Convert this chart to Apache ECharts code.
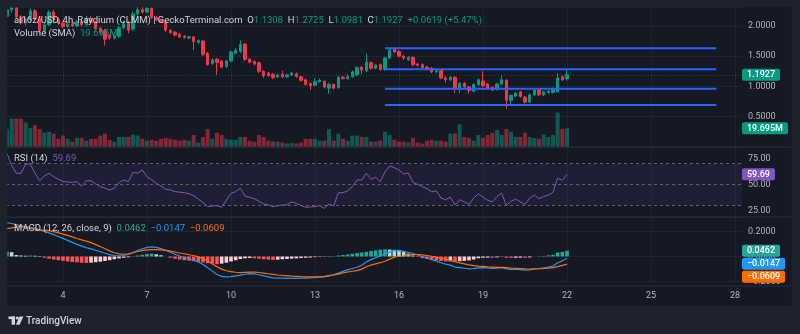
<!DOCTYPE html>
<html>
<head>
<meta charset="utf-8">
<script src="https://cdn.jsdelivr.net/npm/echarts@6/dist/echarts.min.js"></script>
<style>
  html, body { margin: 0; padding: 0; background: #1e222d; }
  #chart { width: 800px; height: 334px; }
</style>
</head>
<body>
<div id="chart"></div>
<script>
// ai16z/USD 4h candles, Raydium (CLMM), from day 2 00:00 to day 22 00:00
const dayTicks = [4, 7, 10, 13, 16, 19, 22, 25, 28];

const open = [2.16,2.27,2.30,2.15,2.05,2.11,2.25,2.13,1.92,2.02, 2.23,2.11,2.05,1.99,2.03,2.00,2.07,2.02,2.13,2.06,
  1.96,1.92,1.84,1.80,1.83,1.97,2.04,1.95,2.20,2.27, 2.23,2.29,2.14,2.10,2.07,1.93,1.90,1.86,1.83,1.80,
  1.82,1.73,1.75,1.55,1.38,1.45,1.42,1.33,1.42,1.55, 1.58,1.70,1.45,1.41,1.39,1.25,1.22,1.20,1.16,1.20,
  1.16,1.19,1.21,1.16,1.11,1.05,1.02,1.08,1.08,0.97, 1.03,0.98,1.15,1.13,1.16,1.19,1.32,1.26,1.39,1.30,
  1.36,1.28,1.47,1.62,1.58,1.50,1.44,1.48,1.37,1.36, 1.32,1.30,1.24,1.27,1.14,1.11,1.15,0.97,1.05,0.99,
  0.92,1.03,1.09,1.04,0.98,0.95,1.04,1.10,0.77,0.84, 0.91,0.82,0.74,0.86,0.94,0.86,0.90,0.90,0.91,1.16,
  1.1308];
const high = [2.30,2.33,2.32,2.18,2.14,2.29,2.28,2.16,2.05,2.26, 2.27,2.14,2.08,2.06,2.06,2.10,2.10,2.17,2.16,2.09,
  1.99,1.95,1.86,1.85,2.00,2.08,2.09,2.24,2.31,2.33, 2.32,2.31,2.17,2.12,2.08,1.95,1.92,1.88,1.85,1.84,
  1.83,1.78,1.77,1.57,1.46,1.47,1.44,1.44,1.59,1.63, 1.76,1.72,1.47,1.43,1.41,1.27,1.24,1.22,1.21,1.26,
  1.21,1.24,1.23,1.18,1.13,1.07,1.14,1.13,1.10,1.06, 1.05,1.17,1.17,1.20,1.26,1.33,1.34,1.54,1.41,1.37,
  1.38,1.49,1.62,1.64,1.60,1.52,1.50,1.50,1.39,1.38, 1.34,1.32,1.28,1.28,1.18,1.17,1.17,1.07,1.07,1.01,
  1.05,1.13,1.25,1.06,1.00,1.06,1.19,1.12,0.87,0.91, 0.93,0.84,0.88,0.96,0.96,0.93,0.94,0.98,1.22,1.18,
  1.2725];
const low = [2.13,2.22,2.12,2.02,2.01,2.08,2.10,1.88,1.89,2.00, 2.08,2.02,1.96,1.96,1.98,1.98,1.99,2.00,2.03,1.93,
  1.86,1.68,1.77,1.78,1.80,1.95,1.88,1.92,2.17,2.20, 2.21,2.12,2.08,2.05,1.90,1.87,1.83,1.80,1.79,1.78,
  1.60,1.70,1.50,1.34,1.36,1.19,1.30,1.30,1.40,1.53, 1.55,1.42,1.38,1.35,1.22,1.14,1.16,1.12,1.14,1.14,
  1.14,1.17,1.14,1.08,1.01,0.94,1.00,1.06,0.97,0.88, 0.95,0.96,1.11,1.11,1.14,1.17,1.20,1.24,1.28,1.28,
  1.26,1.26,1.45,1.55,1.48,1.44,1.42,1.33,1.33,1.29, 1.27,1.22,1.22,1.12,1.06,1.09,0.89,0.89,0.97,0.88,
  0.90,1.01,0.99,0.95,0.92,0.93,1.02,0.63,0.71,0.82, 0.81,0.72,0.72,0.84,0.84,0.84,0.88,0.88,0.89,1.09,
  1.0981];
const close = [2.27,2.30,2.15,2.05,2.11,2.25,2.13,1.92,2.02,2.23, 2.11,2.05,1.99,2.03,2.00,2.07,2.02,2.13,2.06,1.96,
  1.90,1.78,1.80,1.83,1.97,2.04,1.93,2.20,2.27,2.23, 2.29,2.14,2.10,2.07,1.93,1.89,1.85,1.82,1.81,1.82,
  1.74,1.76,1.53,1.36,1.44,1.40,1.32,1.42,1.57,1.60, 1.70,1.45,1.40,1.37,1.25,1.18,1.18,1.15,1.19,1.16,
  1.19,1.22,1.16,1.10,1.03,1.01,1.08,1.10,0.99,1.03, 0.97,1.15,1.13,1.16,1.24,1.31,1.27,1.40,1.30,1.35,
  1.28,1.47,1.60,1.57,1.50,1.47,1.48,1.36,1.35,1.31, 1.29,1.24,1.26,1.14,1.11,1.15,0.97,1.05,0.99,0.93,
  1.03,1.11,1.01,0.97,0.94,1.04,1.11,0.77,0.85,0.89, 0.83,0.74,0.86,0.94,0.86,0.91,0.92,0.96,1.14,1.11,
  1.1927];

// volume in millions
const volume = [19,30,30,30,26,20,23,19,15,16, 14,8.5,12,8.5,5.5,9.5,9.5,6.5,8.5,8.5,
  12,14,7.5,5.5,10.5,10.5,10.5,13,12,8.5, 6.5,7.5,6.5,8.5,9.5,8.5,7.5,6.5,7.5,6.5,
  12.5,4.5,10.5,19,8.5,15,12.5,8.5,7.5,7.5, 10.5,10.5,6.5,5.5,12.5,10.5,6.5,5.5,5.5,4.5,
  3.5,4,3.5,4.5,8.5,8.5,8.5,6.5,6.5,19, 6.5,14,8.5,6.5,12,12,10.5,10.5,5.5,5.5,
  6.5,16,12.5,7.5,5.5,5.5,4.5,9.5,4.5,3.5, 6.5,7.5,6.5,6.5,5.5,14,14,24,10.5,9.5,
  6.5,12.5,9.5,12.5,15,18,12.5,19,16,10.5, 10.5,15,10.5,9.5,8.5,13,10.5,12.5,36.5,19,
  19.695];

// RSI (14)
const rsi = [79.7,68,60.7,60.7,69.5,69.5,60.7,53.6,58,60.7, 57.4,55,52.7,52.5,52,52.7,48.6,53.6,53.6,50.5,
  47.9,46.5,44.8,46.4,51.7,54.3,52.7,61.6,60.7,63.8, 57.4,54.5,51.1,48.5,45.5,44.8,43.1,42.8,42.2,41.2,
  39.5,36,33,28.9,29.5,29.8,28.3,35,41.6,43.1, 46.4,39,37.8,36.5,34,31.4,30.5,28.9,29.7,30.5,
  30.5,33.6,32,30,28.3,28.6,29,29.8,27.3,31.4, 29.5,42.2,42.2,44,47.9,54.3,54.3,60.7,55,56.9,
  52.7,62,67.6,66,63.8,60,61,52,50,48, 46,43,44,37,35.5,38,30.5,35.5,33.5,31,
  37,41,38,35,33.5,38.5,42,30,34,36, 33.5,31,37,40,36.5,38.5,40,42.5,56,54,
  59.69];

// MACD (12, 26, close, 9)
const macdLine = [0.273,0.266,0.257,0.248,0.24,0.236,0.228,0.215,0.203,0.19, 0.176,0.161,0.146,0.13,0.114,0.098,0.084,0.072,0.062,0.05,
  0.038,0.026,0.015,0.008,0.006,0.008,0.016,0.032,0.048,0.062, 0.074,0.078,0.074,0.064,0.05,0.034,0.018,0.004,-0.008,-0.02,
  -0.03,-0.045,-0.065,-0.09,-0.118,-0.145,-0.16,-0.165,-0.162,-0.157, -0.15,-0.143,-0.138,-0.14,-0.147,-0.156,-0.164,-0.172,-0.175,-0.175,
  -0.176,-0.176,-0.176,-0.175,-0.174,-0.172,-0.169,-0.166,-0.164,-0.156, -0.146,-0.134,-0.12,-0.108,-0.097,-0.087,-0.07,-0.045,-0.025,-0.01,
  0.005,0.02,0.035,0.048,0.05,0.042,0.034,0.024,0.012,0.0, -0.012,-0.025,-0.035,-0.05,-0.062,-0.07,-0.085,-0.09,-0.095,-0.1,
  -0.098,-0.092,-0.09,-0.092,-0.095,-0.094,-0.09,-0.1,-0.104,-0.105, -0.106,-0.11,-0.108,-0.1,-0.097,-0.092,-0.085,-0.077,-0.05,-0.035,
  -0.0147];
const signalLine = [0.225,0.231,0.237,0.24,0.236,0.228,0.222,0.213,0.213,0.208, 0.2,0.191,0.181,0.17,0.158,0.145,0.134,0.124,0.112,0.096,
  0.08,0.062,0.045,0.03,0.021,0.018,0.022,0.03,0.04,0.048, 0.054,0.056,0.056,0.054,0.05,0.044,0.036,0.028,0.022,0.014,
  0.008,-0.003,-0.017,-0.036,-0.06,-0.083,-0.102,-0.115,-0.122,-0.127, -0.13,-0.128,-0.126,-0.126,-0.129,-0.134,-0.139,-0.144,-0.149,-0.153,
  -0.156,-0.159,-0.161,-0.163,-0.164,-0.164,-0.164,-0.163,-0.16,-0.154, -0.149,-0.142,-0.132,-0.125,-0.119,-0.114,-0.102,-0.083,-0.069,-0.059,
  -0.05,-0.038,-0.021,-0.006,0.002,0.005,0.011,0.016,0.016,0.013, 0.008,0.002,-0.005,-0.013,-0.022,-0.031,-0.042,-0.052,-0.06,-0.068,
  -0.074,-0.078,-0.08,-0.083,-0.085,-0.087,-0.088,-0.09,-0.093,-0.095, -0.097,-0.1,-0.101,-0.1,-0.099,-0.097,-0.094,-0.09,-0.082,-0.072,
  -0.0609];
const histogram = [0.04,0.035,0.012,0.008,0.006,0.008,0.006,0.004,-0.01,-0.018, -0.024,-0.03,-0.035,-0.04,-0.044,-0.047,-0.05,-0.052,-0.05,-0.046,
  -0.042,-0.036,-0.03,-0.022,-0.015,-0.01,-0.006,0.002,0.008,0.014, 0.02,0.022,0.018,0.01,0.0,-0.01,-0.018,-0.024,-0.03,-0.034,
  -0.038,-0.042,-0.048,-0.054,-0.058,-0.062,-0.058,-0.05,-0.04,-0.03, -0.02,-0.015,-0.012,-0.014,-0.018,-0.022,-0.025,-0.028,-0.026,-0.022,
  -0.02,-0.017,-0.015,-0.012,-0.01,-0.008,-0.005,-0.003,-0.004,-0.002, 0.003,0.008,0.012,0.017,0.022,0.027,0.032,0.038,0.044,0.049,
  0.055,0.058,0.056,0.054,0.048,0.037,0.023,0.008,-0.004,-0.013, -0.02,-0.027,-0.03,-0.037,-0.04,-0.039,-0.043,-0.038,-0.035,-0.032,
  -0.024,-0.014,-0.01,-0.009,-0.01,-0.007,-0.002,-0.01,-0.011,-0.01, -0.009,-0.01,-0.007,0.0,0.002,0.005,0.009,0.013,0.032,0.037,
  0.0462];

// horizontal levels drawn on the price pane
const levels = [1.631, 1.283, 0.962, 0.692];
const levelFrom = '15|12';
const levelTo = '27|08';

// ---- colours / fonts ----
const FONT = 'Roboto, "Noto Sans", sans-serif';
const UP = '#089981', DOWN = '#f23645';
const BG = '#151924', FRAME = '#1e222d';
const GRID = '#20242f', SEP = '#2a2e39';
const AXIS_TXT = '#b2b5be', LEG_TXT = '#d1d4dc';
const RSI_C = '#7e57c2', MACD_C = '#2196f3', SIG_C = '#ff6d00';

// 2-hour slots starting at day 1 18:00; candles sit on every other slot
const slots = [];
for (let k = 0; k < 319; k++) {
  const h = 18 + 2 * k;
  slots.push((1 + Math.floor(h / 24)) + '|' + String(h % 24).padStart(2, '0'));
}
const candleSlot = i => 3 + 2 * i;
const candleKeys = close.map((_, i) => slots[candleSlot(i)]);

function onSlots(values) {
  const out = slots.map(() => '-');
  values.forEach((v, i) => { out[candleSlot(i)] = v; });
  return out;
}
const isDayTick = (idx, key) => {
  const [d, hh] = String(key).split('|');
  return hh === '00' && dayTicks.includes(+d);
};
const signed = (v, d) => (v < 0 ? '\u2212' : '') + Math.abs(v).toFixed(d);

const candleData = onSlots(close.map((c, i) => [open[i], c, low[i], high[i]]));
const volumeData = onSlots(volume.map((v, i) => ({
  value: v,
  itemStyle: { color: close[i] >= open[i] ? 'rgba(8,153,129,0.5)' : 'rgba(242,54,69,0.5)' }
})));
const histColor = (h, prev) => h >= 0 ? (h >= prev ? '#26a69a' : '#b2dfdb') : (h < prev ? '#ff5252' : '#ffcdd2');
const histData = onSlots(histogram.map((h, i) => ({
  value: h,
  itemStyle: { color: histColor(h, i ? histogram[i - 1] : h) }
})));
const pairs = arr => arr.map((v, i) => [candleKeys[i], v]);

function timeAxis(gridIndex, withLabels) {
  return {
    type: 'category', gridIndex, data: slots, boundaryGap: false,
    axisLine: { show: false }, axisTick: { show: false },
    axisLabel: withLabels ? {
      show: true, interval: isDayTick, formatter: v => v.split('|')[0],
      color: AXIS_TXT, fontSize: 9, fontFamily: FONT, margin: 10
    } : { show: false },
    splitLine: { show: true, interval: isDayTick, lineStyle: { color: GRID, width: 1 } }
  };
}
const valLabel = (fmt) => ({
  color: AXIS_TXT, fontSize: 9, fontFamily: FONT, margin: 6, align: 'left',
  showMinLabel: false, showMaxLabel: false, formatter: fmt
});

const chart = echarts.init(document.getElementById('chart'));
chart.setOption({
  animation: false,
  backgroundColor: BG,
  grid: [
    { left: 0, width: 742, top: 7, height: 139.8, outerBoundsMode: 'none' },
    { left: 0, width: 742, top: 132, height: 105, outerBoundsMode: 'none' },
    { left: 0, width: 742, top: 217, height: 64.3, outerBoundsMode: 'none' }
  ],
  xAxis: [timeAxis(0, false), timeAxis(1, false), timeAxis(2, true)],
  yAxis: [
    { type: 'value', gridIndex: 0, position: 'right', min: 0, max: 2.3146, interval: 0.5,
      axisLine: { show: false }, axisTick: { show: false },
      axisLabel: valLabel(v => v.toFixed(4)),
      splitLine: { lineStyle: { color: GRID } } },
    { type: 'value', gridIndex: 0, show: false, min: 0, max: 148.9 },
    { type: 'value', gridIndex: 1, position: 'right', min: 0, max: 100, interval: 25,
      axisLine: { show: false }, axisTick: { show: false },
      axisLabel: valLabel(v => v.toFixed(2)),
      splitLine: { show: false } },
    { type: 'value', gridIndex: 2, position: 'right', min: -0.2, max: 0.3185, interval: 0.2,
      axisLine: { show: false }, axisTick: { show: false },
      axisLabel: Object.assign(valLabel(v => signed(v, 4)), { showMinLabel: true }),
      splitLine: { lineStyle: { color: GRID } } }
  ],
  series: [
    {
      name: 'Volume', type: 'bar', xAxisIndex: 0, yAxisIndex: 1, data: volumeData,
      barWidth: 4, z: 1, silent: true
    },
    {
      name: 'ai16z/USD', type: 'candlestick', xAxisIndex: 0, yAxisIndex: 0, data: candleData,
      barWidth: 3, z: 3,
      itemStyle: { color: UP, color0: DOWN, borderColor: UP, borderColor0: DOWN, borderWidth: 1 },
      markLine: {
        silent: true, symbol: ['none', 'none'], label: { show: false },
        lineStyle: { type: [1, 2], color: UP, width: 1, opacity: 0.45 },
        data: [{ yAxis: close[close.length - 1] }]
      }
    },
    ...levels.map((p, n) => ({
      name: 'level ' + (n + 1), type: 'line', xAxisIndex: 0, yAxisIndex: 0,
      data: [[levelFrom, p], [levelTo, p]], symbol: 'none', z: 4, silent: true,
      lineStyle: { color: '#2962ff', width: 2 }
    })),
    {
      name: 'RSI', type: 'line', xAxisIndex: 1, yAxisIndex: 2, data: pairs(rsi),
      symbol: 'none', lineStyle: { color: RSI_C, width: 1 }, z: 4,
      markArea: { silent: true, itemStyle: { color: 'rgba(126,87,194,0.10)' },
        data: [[{ yAxis: 30 }, { yAxis: 70 }]] },
      markLine: { silent: true, symbol: ['none', 'none'], label: { show: false },
        lineStyle: { type: [3, 3], color: '#5d606b', width: 1 },
        data: [{ yAxis: 70 }, { yAxis: 50 }, { yAxis: 30 }] }
    },
    {
      name: 'Histogram', type: 'bar', xAxisIndex: 2, yAxisIndex: 3, data: histData,
      barWidth: 3.6, z: 2, silent: true
    },
    {
      name: 'MACD', type: 'line', xAxisIndex: 2, yAxisIndex: 3, data: pairs(macdLine),
      symbol: 'none', lineStyle: { color: MACD_C, width: 1.2 }, z: 4
    },
    {
      name: 'Signal', type: 'line', xAxisIndex: 2, yAxisIndex: 3, data: pairs(signalLine),
      symbol: 'none', lineStyle: { color: SIG_C, width: 1.2 }, z: 4
    }
  ]
});

// ---- overlay: frame, separators, legends, last-value tags, logo ----
const last = close.length - 1;
const g = [];
// outer frame
[[0, 0, 7.3, 334], [0, 0, 800, 7.3], [791.7, 0, 8.3, 334], [0, 305.7, 800, 28.3]].forEach(r => {
  g.push({ type: 'rect', z: 100, silent: true, shape: { x: r[0], y: r[1], width: r[2], height: r[3] }, style: { fill: FRAME } });
});
// pane separators
[147, 217, 286].forEach(y => {
  g.push({ type: 'line', z: 50, silent: true, shape: { x1: 7.3, y1: y, x2: 791.7, y2: y }, style: { stroke: SEP, lineWidth: 1 } });
});

function legend(y, text, rich) {
  const r = {};
  Object.keys(rich).forEach(k => { r[k] = { fill: rich[k], fontSize: 9.5, fontFamily: FONT }; });
  g.push({ type: 'text', z: 110, silent: true, x: 14, y,
    style: { text, font: '9.5px ' + FONT, fill: LEG_TXT, verticalAlign: 'middle', align: 'left', rich: r } });
}
const chg = close[last] - open[last];
const pct = chg / open[last] * 100;
const sg = v => (v >= 0 ? '+' : '\u2212');
legend(20.5,
  '{t|ai16z/USD, 4h, Raydium (CLMM) | GeckoTerminal.com}  {t|O}{v|' + open[last].toFixed(4) +
  '}  {t|H}{v|' + high[last].toFixed(4) + '}  {t|L}{v|' + low[last].toFixed(4) +
  '}  {t|C}{v|' + close[last].toFixed(4) + '}  {v|' + sg(chg) + Math.abs(chg).toFixed(4) +
  ' (' + sg(pct) + Math.abs(pct).toFixed(2) + '%)}',
  { t: LEG_TXT, v: UP });
legend(33.5, '{t|Volume (SMA)}  {v|' + volume[last].toFixed(3) + 'M}', { t: LEG_TXT, v: UP });
legend(158.5, '{t|RSI (14)}  {v|' + rsi[last].toFixed(2) + '}', { t: LEG_TXT, v: RSI_C });
legend(228.5, '{t|MACD (12, 26, close, 9)}  {h|' + signed(histogram[last], 4) + '}  {m|' +
  signed(macdLine[last], 4) + '}  {s|' + signed(signalLine[last], 4) + '}',
  { t: LEG_TXT, h: '#26a69a', m: MACD_C, s: SIG_C });

function tag(text, y, bg) {
  g.push({ type: 'text', z: 120, silent: true, x: 742, y,
    style: { text, font: '500 9px ' + FONT, fill: '#ffffff', backgroundColor: bg,
      padding: [2, 5, 1, 5], borderRadius: 2, verticalAlign: 'middle', align: 'left' } });
}
const px = (axis, v) => chart.convertToPixel({ yAxisIndex: axis }, v);
tag(close[last].toFixed(4), px(0, close[last]), close[last] >= open[last] ? UP : DOWN);
tag(volume[last].toFixed(3) + 'M', px(1, volume[last]), close[last] >= open[last] ? UP : DOWN);
tag(rsi[last].toFixed(2), px(2, rsi[last]), RSI_C);
const macdTags = [
  { v: histogram[last], c: '#26a69a' },
  { v: macdLine[last], c: MACD_C },
  { v: signalLine[last], c: SIG_C }
].map(t => Object.assign(t, { y: px(3, t.v) })).sort((a, b) => a.y - b.y);
for (let i = 1; i < macdTags.length; i++) {
  macdTags[i].y = Math.max(macdTags[i].y, macdTags[i - 1].y + 13);
}
macdTags.forEach(t => tag(signed(t.v, 4), t.y, t.c));

// TradingView mark
const LOGO = '#d1d4dc';
g.push({ type: 'rect', z: 110, silent: true, shape: { x: 8.5, y: 316.5, width: 6.5, height: 2.6 }, style: { fill: LOGO } });
g.push({ type: 'rect', z: 110, silent: true, shape: { x: 11.6, y: 316.5, width: 3.4, height: 8.2 }, style: { fill: LOGO } });
g.push({ type: 'circle', z: 110, silent: true, shape: { cx: 17.3, cy: 318, r: 1.6 }, style: { fill: LOGO } });
g.push({ type: 'polygon', z: 110, silent: true, shape: { points: [[19.6, 316.5], [23.4, 316.5], [19.6, 324.7], [15.9, 324.7]] }, style: { fill: LOGO } });
g.push({ type: 'text', z: 110, silent: true, x: 26, y: 321,
  style: { text: 'TradingView', font: '500 10px ' + FONT, fill: LOGO, verticalAlign: 'middle', align: 'left' } });

chart.setOption({ graphic: { elements: g } });
</script>
</body>
</html>
